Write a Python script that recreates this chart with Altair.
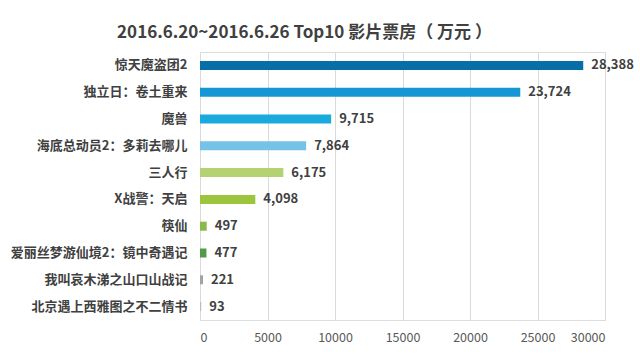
import altair as alt
import pandas as pd

films = ["惊天魔盗团2", "独立日：卷土重来", "魔兽", "海底总动员2：多莉去哪儿", "三人行",
         "X战警：天启", "筷仙", "爱丽丝梦游仙境2：镜中奇遇记", "我叫哀木涕之山口山战记", "北京遇上西雅图之不二情书"]
box_office = [28388, 23724, 9715, 7864, 6175, 4098, 497, 477, 221, 93]
colors = ["#0670a6", "#1497d4", "#1aaade", "#74c2e8", "#b4d271", "#9cc43c",
          "#8ab94c", "#4f9b48", "#a3a3a3", "#bdbdbd"]
x_ticks = [0, 5000, 10000, 15000, 20000, 25000, 30000]

df = pd.DataFrame({"film": films, "value": box_office, "color": colors})
df["label"] = df["value"].map(lambda v: f"{v:,}")

FONT = "Noto Sans CJK SC"

y = alt.Y("film:N", sort=films, title=None,
          axis=alt.Axis(labelFontSize=13, labelFontWeight="bold", labelColor="#404040",
                        labelFont=FONT, labelPadding=13, ticks=False, domain=False,
                        grid=False, labelLimit=250))
x = alt.X("value:Q", title=None, scale=alt.Scale(domain=[0, 30000], nice=False),
          axis=alt.Axis(values=x_ticks, format="d", labelFontSize=12.5, labelColor="#595959",
                        labelFont=FONT, labelPadding=11, ticks=False, domain=False,
                        grid=True, gridColor="#d9d9d9", gridWidth=1))

bars = alt.Chart(df).mark_bar(size=9).encode(
    x=x, y=y, color=alt.Color("color:N", scale=None))

labels = alt.Chart(df).mark_text(align="left", baseline="middle", dx=8, fontSize=13,
                                 fontWeight="bold", color="#404040", font=FONT).encode(
    x="value:Q", y=alt.Y("film:N", sort=films), text="label:N")

chart = (bars + labels).properties(
    width=405, height=268,
    title=alt.TitleParams("2016.6.20~2016.6.26 Top10 影片票房（ 万元 ）", font=FONT,
                          fontSize=17, fontWeight="bold", color="#404040",
                          anchor="middle", frame="group", dx=-98, offset=10),
    autosize=alt.AutoSizeParams(type="none"),
    padding={"left": 200, "top": 52, "right": 35, "bottom": 35},
).configure_view(stroke=None).configure(background="white")

chart.save("out.html", embed_options={"renderer": "svg", "actions": False})
